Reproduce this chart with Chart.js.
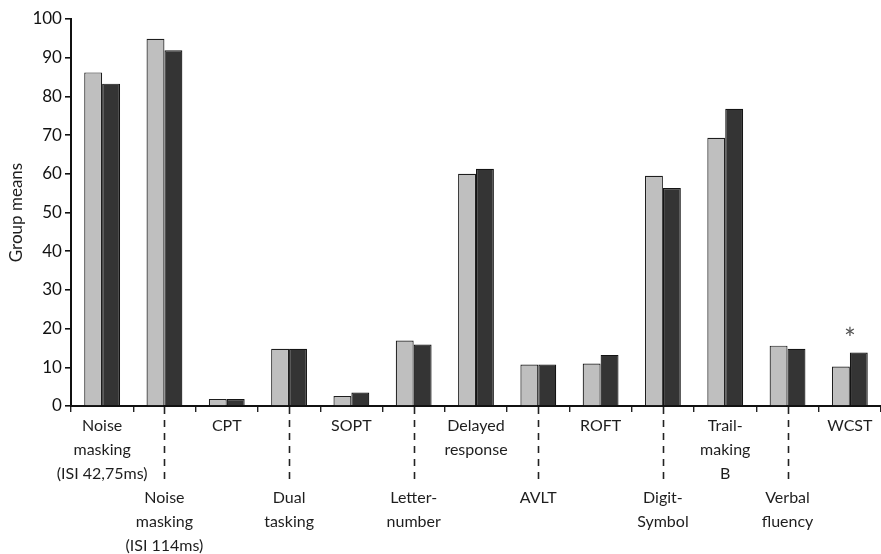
<!DOCTYPE html>
<html>
<head>
<meta charset="utf-8">
<script src="https://cdn.jsdelivr.net/npm/chart.js@4.4.0/dist/chart.umd.min.js"></script>
<style>
    html, body { margin: 0; padding: 0; background: #fff; }
    #wrap { width: 881px; height: 554px; }
</style>
</head>
<body>
<div id="wrap"><canvas id="chart"></canvas></div>
<script>
// Test names, one label line per array entry
const categories = [
    ['Noise', 'masking', '(ISI 42,75ms)'],
    ['Noise', 'masking', '(ISI 114ms)'],
    ['CPT'],
    ['Dual', 'tasking'],
    ['SOPT'],
    ['Letter-', 'number'],
    ['Delayed', 'response'],
    ['AVLT'],
    ['ROFT'],
    ['Digit-', 'Symbol'],
    ['Trail-', 'making', 'B'],
    ['Verbal', 'fluency'],
    ['WCST']
];

// Group means
const lightGroup = [86.2, 94.9, 1.8, 14.8, 2.6, 16.9, 60.0, 10.7, 11.0, 59.5, 69.3, 15.6, 10.2];
const darkGroup  = [83.3, 91.9, 1.8, 14.8, 3.5, 15.9, 61.3, 10.7, 13.2, 56.3, 76.8, 14.8, 13.8];

// y axis
const yMin = 0;
const yMax = 100;
const yStep = 10;

// significance marks: category index and height of the mark
const sigIndex = [12];
const sigValue = [18.6];

const FONT = 'Lato, "Open Sans", sans-serif';

// odd categories sit on a second row, three lines lower
const xLabels = categories.map((lines, i) => i % 2 === 1 ? ['', '', ''].concat(lines) : lines);

// dashed leaders down to the lower row, plus the asterisk
const extrasPlugin = {
    id: 'extras',
    afterDraw(chart) {
        const ctx = chart.ctx;
        const x = chart.scales.x;
        const y = chart.scales.y;
        ctx.save();
        ctx.strokeStyle = '#222';
        ctx.lineWidth = 1.6;
        ctx.setLineDash([7, 6]);
        categories.forEach((c, i) => {
            if (i % 2 !== 1) return;
            const px = Math.round(x.getPixelForValue(i)) + 0.5;
            ctx.beginPath();
            ctx.moveTo(px, chart.chartArea.bottom + 1);
            ctx.lineTo(px, chart.chartArea.bottom + 78);
            ctx.stroke();
        });
        ctx.setLineDash([]);
        ctx.fillStyle = '#555';
        ctx.font = '28px ' + FONT;
        ctx.textAlign = 'center';
        ctx.textBaseline = 'middle';
        sigIndex.forEach((idx, k) => {
            ctx.fillText('*', x.getPixelForValue(idx), y.getPixelForValue(sigValue[k]) + 6);
        });
        ctx.restore();
    }
};

function initChart() {
    const ctx = document.getElementById('chart').getContext('2d');
    new Chart(ctx, {
        type: 'bar',
        data: {
            labels: xLabels,
            datasets: [{
                label: 'Group 1',
                data: lightGroup,
                backgroundColor: '#bfbfbf',
                borderColor: '#1e1e1e',
                borderWidth: 1.2
            }, {
                label: 'Group 2',
                data: darkGroup,
                backgroundColor: '#343434',
                borderColor: '#141414',
                borderWidth: 1.2
            }]
        },
        options: {
            responsive: true,
            maintainAspectRatio: false,
            animation: false,
            layout: { padding: { top: 19, right: 0, left: 0, bottom: -6 } },
            datasets: { bar: { categoryPercentage: 0.575, barPercentage: 1.0 } },
            plugins: {
                legend: { display: false },
                tooltip: { enabled: false }
            },
            scales: {
                x: {
                    offset: true,
                    grid: {
                        offset: true,
                        drawOnChartArea: false,
                        drawTicks: true,
                        tickLength: 6,
                        color: '#222',
                        lineWidth: 1.4
                    },
                    border: { color: '#111', width: 2 },
                    ticks: {
                        autoSkip: false,
                        maxRotation: 0,
                        minRotation: 0,
                        padding: 2,
                        color: '#1e1e1e',
                        font: { family: FONT, size: 16, lineHeight: '24px' }
                    }
                },
                y: {
                    min: yMin,
                    max: yMax,
                    grid: {
                        drawOnChartArea: false,
                        tickLength: 6,
                        color: '#111',
                        lineWidth: 1.6
                    },
                    border: { color: '#111', width: 2 },
                    ticks: {
                        stepSize: yStep,
                        padding: 3,
                        color: '#111',
                        font: { family: FONT, size: 17 }
                    },
                    title: {
                        display: true,
                        text: 'Group means',
                        color: '#1e1e1e',
                        padding: { top: 6, bottom: 3 },
                        font: { family: FONT, size: 17 }
                    }
                }
            }
        },
        plugins: [extrasPlugin]
    });
}

document.addEventListener('DOMContentLoaded', initChart);
</script>
</body>
</html>
